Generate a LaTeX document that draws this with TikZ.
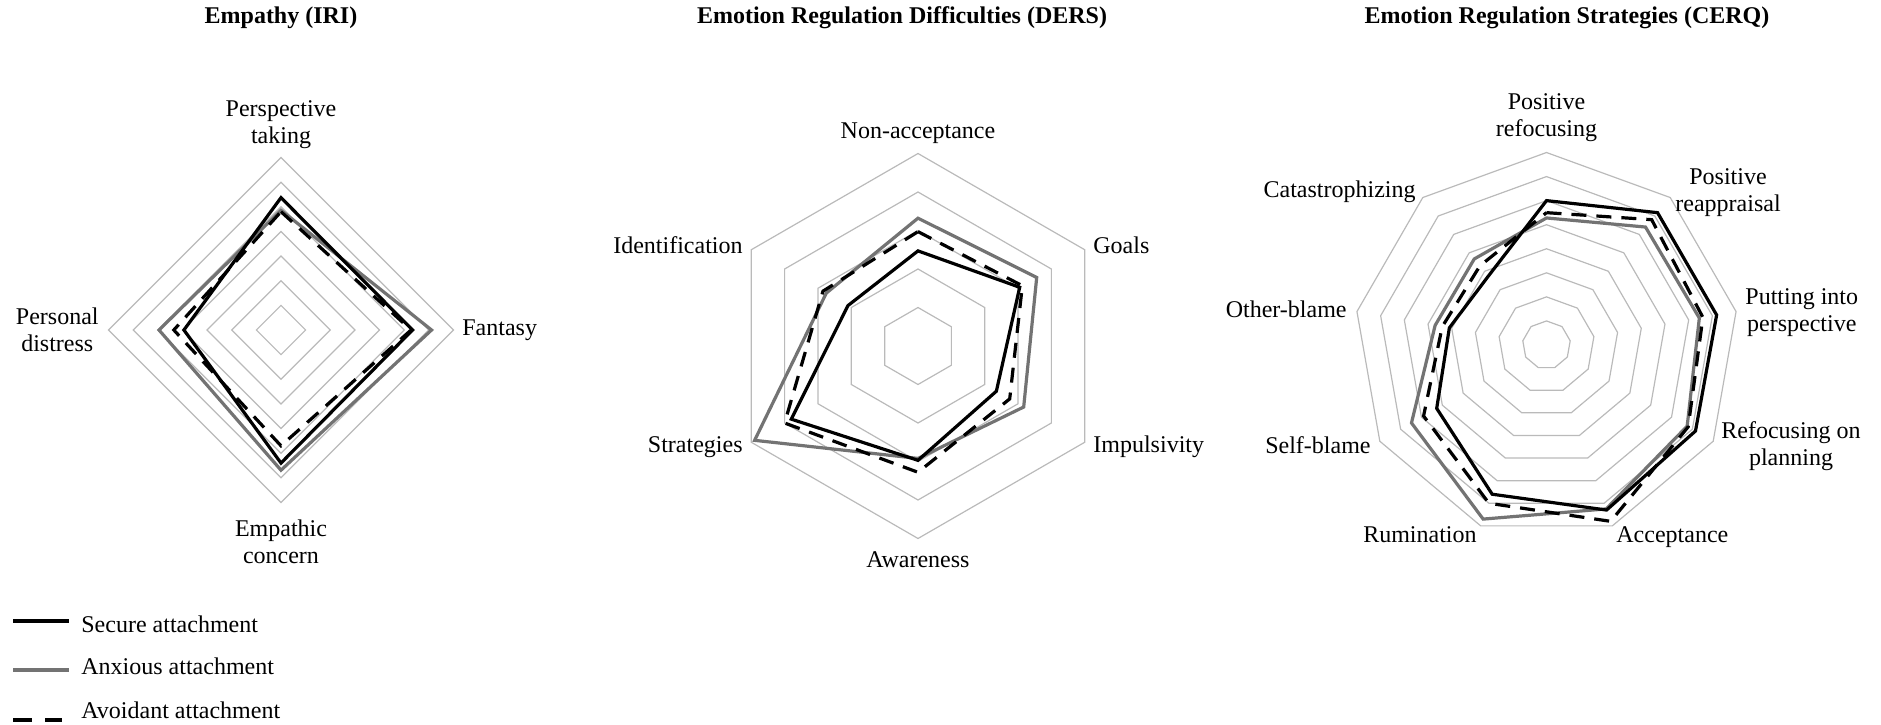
\documentclass[tikz,border=0pt]{standalone}
\usepackage{fontspec}
\setmainfont{Liberation Serif}
\begin{document}
\begin{tikzpicture}[x=0.5pt,y=0.5pt]
\tikzstyle{grid}=[draw=black!27,line width=0.6pt];
\tikzstyle{secure}=[draw=black,line width=1.6pt];
\tikzstyle{anxious}=[draw=black!55,line width=1.6pt];
\tikzstyle{avoidant}=[draw=black,line width=1.6pt,dash pattern=on 7.5pt off 5pt];
\tikzstyle{lbl}=[font=\fontsize{12}{13.4}\selectfont,align=center,inner sep=0pt];
\tikzstyle{title}=[font=\fontsize{12}{14}\selectfont\bfseries,inner sep=0pt,anchor=base];
\useasboundingbox (0,0) rectangle (1881,724);

% titles
\node [title] (t1) at (281,700) {Empathy (IRI)};
\node [title] (t2) at (902,700) {Emotion Regulation Difficulties (DERS)};
\node [title] (t3) at (1567,700) {Emotion Regulation Strategies (CERQ)};

% Empathy (IRI)
\begin{scope}[shift={(281,394)},x=12.32pt,y=12.32pt]
\foreach \r in {1,...,7}
  \draw [grid] (90:\r) -- (0:\r) -- (270:\r) -- (180:\r) -- cycle;
\draw [anxious] (90:4.86) -- (0:6.11) -- (270:5.69) -- (180:4.95) -- cycle;
\draw [secure] (90:5.37) -- (0:5.34) -- (270:5.4) -- (180:3.94) -- cycle;
\draw [avoidant] (90:4.8) -- (0:5.28) -- (270:4.7) -- (180:4.35) -- cycle;
\end{scope}
\node [lbl,anchor=south] (pt) at (281,575) {Perspective\\taking};
\node [lbl,anchor=west] (fa) at (462,394) {Fantasy};
\node [lbl,anchor=south] (ec) at (281,160) {Empathic\\concern};
\node [lbl,anchor=east] (pd) at (99,394) {Personal\\distress};

% Emotion Regulation Difficulties (DERS)
\begin{scope}[shift={(918,378)},x=19.25pt,y=19.25pt]
\foreach \r in {1,...,5}
  \draw [grid] (90:\r) -- (30:\r) -- (-30:\r) -- (-90:\r) -- (-150:\r) -- (150:\r) -- cycle;
\draw [anxious] (90:3.32) -- (30:3.56) -- (-30:3.17) -- (-90:2.92) -- (-150:4.9) -- (150:2.75) -- cycle;
\draw [secure] (90:2.47) -- (30:3.05) -- (-30:2.35) -- (-90:2.97) -- (-150:3.8) -- (150:2.1) -- cycle;
\draw [avoidant] (90:2.97) -- (30:3.13) -- (-30:2.75) -- (-90:3.28) -- (-150:4.0) -- (150:2.85) -- cycle;
\end{scope}
\node [lbl,anchor=south] (na) at (918,580) {Non-acceptance};
\node [lbl,anchor=west] (go) at (1093,479) {Goals};
\node [lbl,anchor=west] (im) at (1093,277) {Impulsivity};
\node [lbl,anchor=north] (aw) at (918,173) {Awareness};
\node [lbl,anchor=east] (st) at (743,277) {Strategies};
\node [lbl,anchor=east] (id) at (743,479) {Identification};

% Emotion Regulation Strategies (CERQ)
\begin{scope}[shift={(1546.5,379)},x=12.03pt,y=12.03pt]
\foreach \r in {1,...,8}
  \draw [grid] (90:\r) -- (50:\r) -- (10:\r) -- (-30:\r) -- (-70:\r) -- (-110:\r) -- (-150:\r) -- (170:\r) -- (130:\r) -- cycle;
\draw [anxious] (90:5.28) -- (50:6.4) -- (10:6.45) -- (-30:6.75) -- (-70:7.25) -- (-110:7.7) -- (-150:6.48) -- (170:4.7) -- (130:4.67) -- cycle;
\draw [secure] (90:6.0) -- (50:7.18) -- (10:7.18) -- (-30:7.15) -- (-70:7.3) -- (-110:6.6) -- (-150:5.27) -- (170:4.1) -- (130:3.75) -- cycle;
\draw [avoidant] (90:5.5) -- (50:6.8) -- (10:6.6) -- (-30:6.8) -- (-70:7.8) -- (-110:7.0) -- (-150:5.9) -- (170:4.4) -- (130:4.3) -- cycle;
\end{scope}
\node [lbl,anchor=south] (pr) at (1546.5,582) {Positive\\refocusing};
\node [lbl,anchor=west] (pa) at (1675,531) {Positive\\reappraisal};
\node [lbl,anchor=west] (pp) at (1745,411) {Putting into\\perspective};
\node [lbl,anchor=west] (rp) at (1721,278) {Refocusing on\\planning};
\node [lbl,anchor=north west] (ac) at (1616,198) {Acceptance};
\node [lbl,anchor=north east] (ru) at (1477,198) {Rumination};
\node [lbl,anchor=east] (sb) at (1371,279) {Self-blame};
\node [lbl,anchor=east] (ob) at (1347,415) {Other-blame};
\node [lbl,anchor=east] (ca) at (1416,532) {Catastrophizing};

% legend
\coordinate (s1) at (13,103);
\coordinate (s2) at (69,103);
\draw [secure] (s1) -- (s2);
\node [lbl,anchor=base west] (ls) at (81,92) {Secure attachment};
\coordinate (a1) at (13,54);
\coordinate (a2) at (69,54);
\draw [anxious] (a1) -- (a2);
\node [lbl,anchor=base west] (la) at (81,50) {Anxious attachment};
\coordinate (v1) at (13,4);
\coordinate (v2) at (62,4);
\draw [secure,dash pattern=on 9.5pt off 6.5pt] (v1) -- (v2);
\node [lbl,anchor=base west] (lv) at (81,6) {Avoidant attachment};
\end{tikzpicture}
\end{document}
